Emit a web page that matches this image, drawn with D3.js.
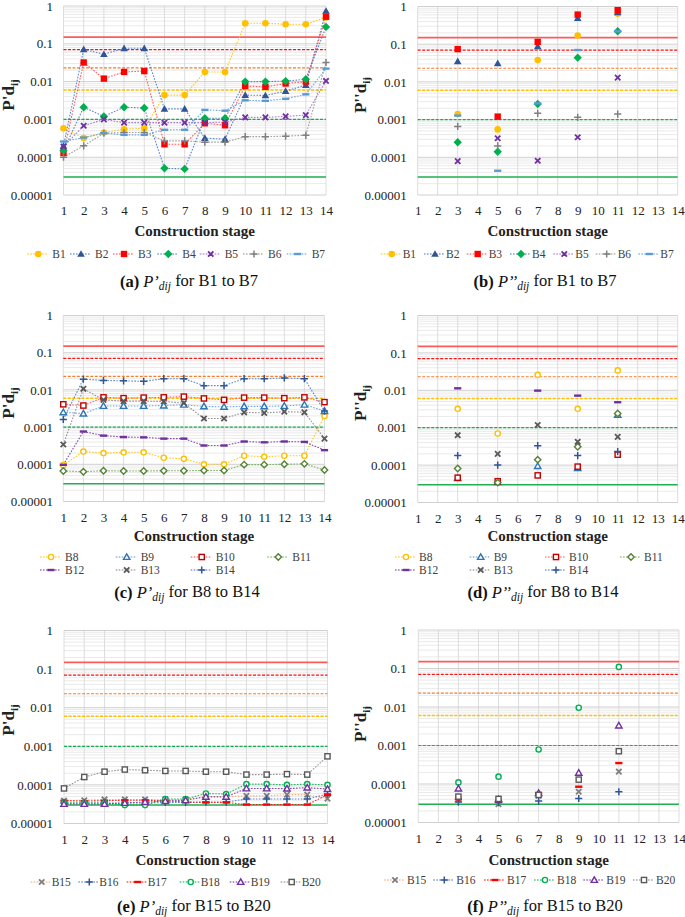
<!DOCTYPE html>
<html><head><meta charset="utf-8">
<script src="https://cdn.jsdelivr.net/npm/d3@7"></script>
<style>body{margin:0;background:#fff}svg{display:block}
svg text{font-family:"Liberation Serif","DejaVu Serif",serif !important}</style>
</head><body><svg id="c" width="685" height="917"></svg>
<script>
// ---------- DATA ----------
const stages = [1,2,3,4,5,6,7,8,9,10,11,12,13,14];
const oddStages = [3,5,7,9,11];
const yTickValues = [1,0.1,0.01,0.001,0.0001,0.00001];
const yTickLabels = ["1","0.1","0.01","0.001","0.0001","0.00001"];
const thresholdValues = [0.15,0.07,0.023,0.006,0.001,0.00003];

// (a) P'dij B1-B7
const a_B1 = [5.8e-4,3.2e-4,4.5e-4,5.5e-4,5.8e-4,4.4e-3,4.4e-3,0.018,0.018,0.35,0.35,0.33,0.33,0.5];
const a_B2 = [2.0e-4,0.071,0.053,0.076,0.076,1.9e-3,1.9e-3,3.2e-4,3.0e-4,4.4e-3,4.3e-3,5.6e-3,8.1e-3,0.74];
const a_B3 = [1.3e-4,0.032,0.012,0.018,0.019,2.2e-4,2.2e-4,7.9e-4,7.0e-4,7.6e-3,7.3e-3,8.9e-3,0.010,0.52];
const a_B4 = [1.5e-4,2.1e-3,1.2e-3,2.1e-3,2.0e-3,5.1e-5,4.9e-5,1.07e-3,1.07e-3,0.010,0.010,0.0103,0.0115,0.28];
const a_B5 = [1.9e-4,6.8e-4,1.0e-3,8.2e-4,8.2e-4,8.2e-4,8.2e-4,8.2e-4,8.5e-4,1.13e-3,1.13e-3,1.2e-3,1.3e-3,0.0104];
const a_B6 = [1.0e-4,2.0e-4,4.3e-4,4.5e-4,4.5e-4,2.7e-4,2.7e-4,2.5e-4,2.5e-4,3.5e-4,3.5e-4,3.6e-4,3.8e-4,0.032];
const a_B7 = [2.6e-4,3.3e-4,4.3e-4,3.9e-4,3.9e-4,5.3e-4,5.3e-4,1.78e-3,1.7e-3,3.2e-3,3.1e-3,3.5e-3,4.6e-3,0.022];

// (b) P''dij B1-B7 (stages 3,5,7,9,11)
const b_B1 = [1.4e-3,5.5e-4,0.038,0.17,0.64];
const b_B2 = [0.035,0.031,0.087,0.49,0.70];
const b_B3 = [0.074,1.2e-3,0.115,0.61,0.80];
const b_B4 = [2.5e-4,1.4e-4,2.6e-3,0.044,0.22];
const b_B5 = [7.9e-5,3.2e-4,8.1e-5,3.4e-4,0.013];
const b_B6 = [6.6e-4,2.0e-4,1.47e-3,1.15e-3,1.4e-3];
const b_B7 = [1.28e-3,4.4e-5,2.7e-3,0.07,0.22];

// (c) P'dij B8-B14
const c_B8  = [9.5e-5,2.2e-4,2.0e-4,2.1e-4,2.1e-4,1.5e-4,1.4e-4,1.0e-4,1.0e-4,1.7e-4,1.6e-4,1.7e-4,1.7e-4,2.0e-3];
const c_B9  = [2.5e-3,2.3e-3,3.7e-3,3.7e-3,3.7e-3,3.8e-3,4.0e-3,3.6e-3,3.5e-3,3.6e-3,3.6e-3,3.7e-3,4.0e-3,2.7e-3];
const c_B10 = [4.1e-3,3.8e-3,6.3e-3,6.0e-3,6.2e-3,6.3e-3,6.6e-3,5.9e-3,5.4e-3,6.2e-3,6.2e-3,6.0e-3,6.3e-3,4.7e-3];
const c_B11 = [6.6e-5,6.3e-5,6.7e-5,6.6e-5,6.6e-5,6.7e-5,6.7e-5,6.8e-5,6.8e-5,9.8e-5,9.8e-5,1.0e-4,1.03e-4,7.0e-5];
const c_B12 = [9.7e-5,7.6e-4,5.9e-4,5.4e-4,5.3e-4,4.9e-4,4.9e-4,3.2e-4,3.2e-4,4.1e-4,3.9e-4,4.1e-4,4.0e-4,2.4e-4];
const c_B13 = [3.4e-4,0.0107,5.4e-3,5.0e-3,5.0e-3,4.9e-3,4.4e-3,1.7e-3,1.7e-3,2.5e-3,2.4e-3,2.6e-3,2.5e-3,4.9e-4];
const c_B14 = [1.6e-3,0.0194,0.018,0.0175,0.017,0.020,0.020,0.013,0.013,0.020,0.020,0.021,0.020,2.7e-3];

// (d) P''dij B8-B14
const d_B8  = [3.2e-3,7.0e-4,0.026,3.2e-3,0.034];
const d_B9  = [4.5e-5,3.5e-5,9.4e-5,8.3e-5,2.2e-3];
const d_B10 = [4.6e-5,3.7e-5,5.3e-5,9.1e-5,1.9e-4];
const d_B11 = [8.1e-5,3.4e-5,1.4e-4,3.1e-4,2.4e-3];
const d_B12 = [0.0113,null,9.8e-3,7.2e-3,4.8e-3];
const d_B13 = [6.3e-4,2.0e-4,1.18e-3,4.2e-4,5.7e-4];
const d_B14 = [1.8e-4,1.0e-4,3.3e-4,1.8e-4,2.3e-4];

// (e) P'dij B15-B20
const e_B15 = [3.9e-5,4.0e-5,4.2e-5,4.2e-5,4.2e-5,4.2e-5,4.2e-5,5.0e-5,5.0e-5,5.2e-5,5.2e-5,5.6e-5,5.6e-5,4.4e-5];
const e_B16 = [3.4e-5,3.4e-5,3.4e-5,3.4e-5,3.4e-5,3.5e-5,3.5e-5,3.6e-5,3.6e-5,4.3e-5,4.3e-5,4.3e-5,4.3e-5,5.8e-5];
const e_B17 = [3.9e-5,3.8e-5,3.9e-5,4.0e-5,4.0e-5,3.9e-5,3.6e-5,3.5e-5,3.5e-5,3.1e-5,3.1e-5,3.1e-5,3.1e-5,5.5e-5];
const e_B18 = [3.4e-5,3.4e-5,3.4e-5,3.0e-5,3.0e-5,4.3e-5,4.3e-5,6.0e-5,5.8e-5,1.05e-4,1.05e-4,1.0e-4,1.05e-4,1.0e-4];
const e_B19 = [3.2e-5,3.2e-5,3.2e-5,3.4e-5,3.6e-5,3.8e-5,4.0e-5,4.9e-5,4.9e-5,8.1e-5,8.1e-5,8.0e-5,8.5e-5,7.8e-5];
const e_B20 = [8.1e-5,1.6e-4,2.2e-4,2.5e-4,2.4e-4,2.3e-4,2.3e-4,2.2e-4,2.2e-4,1.85e-4,1.85e-4,1.9e-4,1.85e-4,5.5e-4];

// (f) P''dij B15-B20
const f_B15 = [4.0e-5,3.0e-5,5.0e-5,6.3e-5,2.1e-4];
const f_B16 = [3.4e-5,3.3e-5,3.6e-5,4.2e-5,6.3e-5];
const f_B17 = [4.0e-5,3.6e-5,5.8e-5,8.5e-5,3.5e-4];
const f_B18 = [1.1e-4,1.55e-4,7.9e-4,9.6e-3,0.11];
const f_B19 = [7.6e-5,4.0e-5,5.8e-5,1.95e-4,3.3e-3];
const f_B20 = [4.7e-5,4.1e-5,5.2e-5,1.3e-4,7.1e-4];

// ---------- STYLES ----------
const thrStyle = [
  {c:"#FF5A5A", w:1.8, dash:null},
  {c:"#FF1010", w:1.2, dash:"3,1.5"},
  {c:"#F08030", w:1.2, dash:"3,1.5"},
  {c:"#FFC000", w:1.5, dash:"3,1.5"},
  {c:"#10B050", w:1.2, dash:"3,1.5"},
  {c:"#20B050", w:1.5, dash:null}
];
const styleB1_7 = {
  B1:{c:"#FFC000",l:"#FFC000",m:"circle",f:true},
  B2:{c:"#2F5597",l:"#4472C4",m:"triangle",f:true},
  B3:{c:"#FF0000",l:"#FF4040",m:"square",f:true},
  B4:{c:"#00B050",l:"#4472C4",m:"diamond",f:true},
  B5:{c:"#7030A0",l:"#9966CC",m:"times",f:true},
  B6:{c:"#808080",l:"#909090",m:"plus",f:true},
  B7:{c:"#5B9BD5",l:"#5B9BD5",m:"dash",f:true}
};
const styleB8_14 = {
  B8:{c:"#FFC000",l:"#FFC000",m:"circle",f:false},
  B9:{c:"#2E75B6",l:"#5B9BD5",m:"triangle",f:false},
  B10:{c:"#C00000",l:"#FF5050",m:"square",f:false},
  B11:{c:"#548235",l:"#70AD47",m:"diamond",f:false},
  B12:{c:"#7030A0",l:"#7030A0",m:"dash",f:true},
  B13:{c:"#595959",l:"#808080",m:"times",f:true},
  B14:{c:"#2F5597",l:"#4472C4",m:"plus",f:true}
};
const styleB15_20 = {
  B15:{c:"#7F7F7F",l:"#F4A070",m:"times",f:true},
  B16:{c:"#2F5597",l:"#4472C4",m:"plus",f:true},
  B17:{c:"#FF0000",l:"#FF0000",m:"dash",f:true},
  B18:{c:"#00B050",l:"#00B050",m:"circle",f:false},
  B19:{c:"#7030A0",l:"#7030A0",m:"triangle",f:false},
  B20:{c:"#595959",l:"#808080",m:"square",f:false}
};

const svg = d3.select("#c");

function drawMarker(g, type, cx, cy, color, filled){
  const fill = filled ? color : "#fff";
  switch(type){
    case "circle":
      g.append("circle").attr("cx",cx).attr("cy",cy).attr("r",filled?3.3:2.6)
        .attr("fill",fill).attr("stroke",color).attr("stroke-width",filled?0:1.4); break;
    case "triangle": {
      const s = filled?3.8:3.2;
      g.append("path").attr("d",`M${cx},${cy-s}L${cx+s},${cy+s*0.75}L${cx-s},${cy+s*0.75}Z`)
        .attr("fill",fill).attr("stroke",color).attr("stroke-width",filled?0:1.4).attr("stroke-linejoin","miter"); break; }
    case "square":
      if(filled) g.append("rect").attr("x",cx-3.2).attr("y",cy-3.2).attr("width",6.4).attr("height",6.4).attr("fill",color);
      else g.append("rect").attr("x",cx-2.6).attr("y",cy-2.6).attr("width",5.2).attr("height",5.2).attr("fill","#fff").attr("stroke",color).attr("stroke-width",1.4);
      break;
    case "diamond": {
      const s = filled?4.2:3.2;
      g.append("path").attr("d",`M${cx},${cy-s}L${cx+s},${cy}L${cx},${cy+s}L${cx-s},${cy}Z`)
        .attr("fill",fill).attr("stroke",color).attr("stroke-width",filled?0:1.4); break; }
    case "times":
      g.append("path").attr("d",`M${cx-2.7},${cy-2.7}L${cx+2.7},${cy+2.7}M${cx-2.7},${cy+2.7}L${cx+2.7},${cy-2.7}`)
        .attr("stroke",color).attr("stroke-width",1.8).attr("fill","none"); break;
    case "plus":
      g.append("path").attr("d",`M${cx-3.6},${cy}L${cx+3.6},${cy}M${cx},${cy-3.6}L${cx},${cy+3.6}`)
        .attr("stroke",color).attr("stroke-width",1.5).attr("fill","none"); break;
    case "dash":
      g.append("rect").attr("x",cx-3.6).attr("y",cy-1.2).attr("width",7.2).attr("height",2.4).attr("fill",color); break;
  }
}

function drawPanel(cfg){
  const x = d3.scaleLinear().domain([1,14]).range([cfg.x0,cfg.x1]);
  const y = d3.scaleLog().domain([1e-5,1]).range([cfg.yb,cfg.yt]);
  const g = svg.append("g");
  const minor=[]; for(let e=-5;e<0;e++) for(let m=2;m<=9;m++) minor.push(m*Math.pow(10,e));
  g.append("g").selectAll("line").data(minor).join("line")
    .attr("x1",cfg.x0).attr("x2",cfg.x1).attr("y1",d=>y(d)).attr("y2",d=>y(d))
    .attr("stroke","#E4E4E4").attr("stroke-width",0.8);
  g.append("g").selectAll("line").data(stages).join("line")
    .attr("x1",d=>x(d)).attr("x2",d=>x(d)).attr("y1",cfg.yt).attr("y2",cfg.yb)
    .attr("stroke","#D9D9D9").attr("stroke-width",0.9);
  g.append("g").selectAll("line").data(yTickValues).join("line")
    .attr("x1",cfg.x0).attr("x2",cfg.x1).attr("y1",d=>y(d)).attr("y2",d=>y(d))
    .attr("stroke","#D0D0D0").attr("stroke-width",1);
  g.append("g").selectAll("line").data(thresholdValues).join("line")
    .attr("x1",cfg.x0).attr("x2",cfg.x1).attr("y1",d=>y(d)).attr("y2",d=>y(d))
    .attr("stroke",(d,i)=>thrStyle[i].c).attr("stroke-width",(d,i)=>thrStyle[i].w)
    .attr("stroke-dasharray",(d,i)=>thrStyle[i].dash);
  const names = Object.keys(cfg.style);
  if(cfg.lines){
    names.forEach((n,k)=>{
      const pts = cfg.data[k].map((v,i)=>({s:cfg.xs[i],v})).filter(p=>p.v!=null);
      g.append("path").datum(pts)
        .attr("d",d3.line().x(p=>x(p.s)).y(p=>y(p.v)))
        .attr("fill","none").attr("stroke",cfg.style[n].l).attr("stroke-width",1.1)
        .attr("stroke-dasharray","1.6,1.4").attr("opacity",0.85);
    });
  }
  names.forEach((n,k)=>{
    cfg.data[k].forEach((v,i)=>{
      if(v==null) return;
      drawMarker(g,cfg.style[n].m,x(cfg.xs[i]),y(v),cfg.style[n].c,cfg.style[n].f);
    });
  });
  const ya = g.append("g").attr("transform",`translate(${cfg.x0},0)`)
    .call(d3.axisLeft(y).tickValues(yTickValues).tickFormat((d,i)=>yTickLabels[i]).tickSize(0).tickPadding(cfg.x0-cfg.ylabEnd));
  ya.select(".domain").remove();
  ya.selectAll("text").attr("font-size",13).attr("fill","#222");
  const xa = g.append("g").attr("transform",`translate(0,${cfg.yb})`)
    .call(d3.axisBottom(x).tickValues(stages).tickFormat(d3.format("d")).tickSize(0).tickPadding(11));
  xa.select(".domain").remove();
  xa.selectAll("text").attr("font-size",13).attr("fill","#222");
  g.append("text").attr("x",(cfg.x0+cfg.x1)/2).attr("y",cfg.xtY+5).attr("text-anchor","middle")
    .attr("font-weight","bold").attr("font-size",15).attr("fill","#222")
    .text("Construction stage");
  const yt = g.append("text").attr("transform",`translate(${cfg.ytX},${cfg.ytY}) rotate(-90)`)
    .attr("text-anchor","middle").attr("font-weight","bold").attr("font-size",17).attr("fill","#222");
  yt.append("tspan").text(cfg.prime+"d");
  yt.append("tspan").attr("font-size",11).attr("dy","0.35em").text("ij");
  cfg.legend.forEach((it,k)=>{
    const st = cfg.style[names[k]];
    g.append("line").attr("x1",it[0]-11).attr("x2",it[0]+9).attr("y1",it[1]).attr("y2",it[1])
      .attr("stroke",st.l).attr("stroke-width",1.1).attr("stroke-dasharray","1.6,1.4");
    drawMarker(g,st.m,it[0],it[1],st.c,st.f);
    g.append("text").attr("x",it[0]+cfg.legOff).attr("y",it[1]+4)
      .attr("font-size",11.5).attr("fill","#404040").text(names[k]);
  });
  const cap = g.append("text").attr("x",cfg.capX).attr("y",cfg.capY+5).attr("text-anchor","middle")
    .attr("font-size",16.5).attr("fill","#111");
  cap.append("tspan").attr("font-weight","bold").text(`(${cfg.letter}) `);
  cap.append("tspan").attr("font-style","italic").text(cfg.prime.replace(/'/g,"\u2019"));
  cap.append("tspan").attr("font-style","italic").attr("font-size",11.5).attr("dy","0.3em").text("dij");
  cap.append("tspan").attr("dy","-0.3em").text(" for "+cfg.range);
}

drawPanel({letter:"a",prime:"P'",range:"B1 to B7",x0:63.5,x1:326,yt:6,yb:195,ylabEnd:53,
  xs:stages,lines:true,style:styleB1_7,data:[a_B1,a_B2,a_B3,a_B4,a_B5,a_B6,a_B7],
  xtY:231,ytX:14,ytY:95,capX:189,capY:282,legOff:14,
  legend:[[38.3,254],[81,254],[124,254],[168.3,254],[210.7,254],[254,254],[297.7,254]]});
drawPanel({letter:"b",prime:"P''",range:"B1 to B7",x0:417.7,x1:677.7,yt:6.5,yb:195,ylabEnd:406.7,
  xs:oddStages,lines:false,style:styleB1_7,data:[b_B1,b_B2,b_B3,b_B4,b_B5,b_B6,b_B7],
  xtY:231,ytX:366,ytY:95,capX:545,capY:282,legOff:11,
  legend:[[391.7,254],[435,254],[477.7,254],[521,254],[564.3,254],[606.7,254],[649.3,254]]});
drawPanel({letter:"c",prime:"P'",range:"B8 to B14",x0:63.3,x1:324.5,yt:315.5,yb:501.5,ylabEnd:53,
  xs:stages,lines:true,style:styleB8_14,data:[c_B8,c_B9,c_B10,c_B11,c_B12,c_B13,c_B14],
  xtY:536,ytX:14,ytY:403,capX:187,capY:593,legOff:14,
  legend:[[51,557],[126.7,557],[201.7,557],[278.3,557],[51,570],[126.7,570],[201.7,570]]});
drawPanel({letter:"d",prime:"P''",range:"B8 to B14",x0:417.7,x1:677.7,yt:315.5,yb:502.5,ylabEnd:406.7,
  xs:oddStages,lines:false,style:styleB8_14,data:[d_B8,d_B9,d_B10,d_B11,d_B12,d_B13,d_B14],
  xtY:536,ytX:366,ytY:403,capX:543,capY:593,legOff:13,
  legend:[[406,557],[480.7,557],[556,557],[631,557],[406,570],[480.7,570],[556,570]]});
drawPanel({letter:"e",prime:"P'",range:"B15 to B20",x0:64,x1:327.5,yt:630.5,yb:823.5,ylabEnd:53,
  xs:stages,lines:true,style:styleB15_20,data:[e_B15,e_B16,e_B17,e_B18,e_B19,e_B20],
  xtY:860,ytX:14,ytY:720,capX:194,capY:907,legOff:10,
  legend:[[41.7,882],[89.3,882],[137.7,882],[190.7,882],[240.7,882],[291.7,882]]});
drawPanel({letter:"f",prime:"P''",range:"B15 to B20",x0:418.3,x1:679,yt:630,yb:822.5,ylabEnd:406.7,
  xs:oddStages,lines:false,style:styleB15_20,data:[f_B15,f_B16,f_B17,f_B18,f_B19,f_B20],
  xtY:860,ytX:366,ytY:724,capX:545,capY:907,legOff:12,
  legend:[[395,880],[444.3,880],[495,880],[545,880],[594.3,880],[644,880]]});
</script></body></html>
